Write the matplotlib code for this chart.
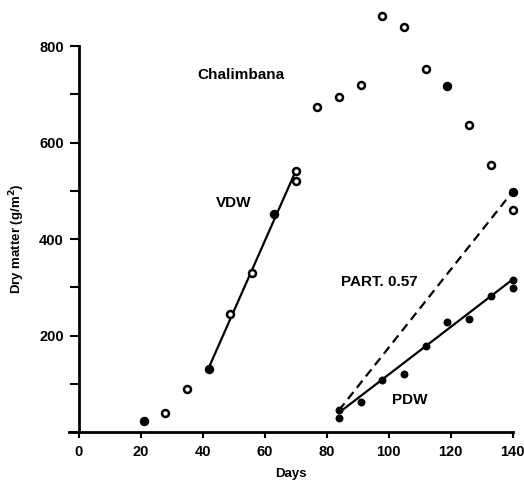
import matplotlib
matplotlib.use("Agg")
import matplotlib.pyplot as plt
from matplotlib.ticker import MultipleLocator

plt.rcParams['font.family'] = ['Liberation Sans', 'DejaVu Sans']
plt.rcParams['font.weight'] = 'bold'

# Total dry matter, Chalimbana (g/m2)
total_days = [21, 28, 35, 42, 49, 56, 63, 70, 70, 77, 84, 91, 98, 105, 112, 119, 126, 133, 140, 140]
total_dm = [23, 40, 90, 131, 244, 329, 452, 541, 521, 673, 694, 719, 863, 840, 752, 717, 636, 554, 498, 461]
total_filled = [True, False, False, True, False, False, True, False, False, False, False, False,
                False, False, False, True, False, False, True, False]

# Pod dry weight (g/m2)
pdw_days = [84, 84, 91, 98, 105, 112, 119, 126, 133, 140, 140]
pdw_dm = [45, 30, 62, 108, 121, 179, 229, 235, 281, 315, 298]

# Fitted lines
vdw_line_days = [42, 70]
vdw_line_dm = [133, 540]
pdw_line_days = [84, 140]
pdw_line_dm = [40, 316]
part_line_days = [84, 140]
part_line_dm = [45, 498]

xticks = [0, 20, 40, 60, 80, 100, 120, 140]
yticks = [200, 400, 600, 800]

fig = plt.figure(figsize=(5.24, 4.82), dpi=100)
ax = fig.add_axes([0.1321, 0.1037, 0.8460, 0.8008])

ax.plot(vdw_line_days, vdw_line_dm, color='black', lw=1.6, zorder=2)
ax.plot(pdw_line_days, pdw_line_dm, color='black', lw=1.6, zorder=2)
ax.plot(part_line_days, part_line_dm, color='black', lw=1.6, ls=(0, (4, 2.5)), zorder=2)

for d, v, f in zip(total_days, total_dm, total_filled):
    ax.plot([d], [v], marker='o', ms=5, mew=1.8, mec='black',
            mfc='black' if f else 'white', ls='none', clip_on=False, zorder=3)

ax.plot(pdw_days, pdw_dm, marker='o', ms=4.5, mew=1.2, mec='black', mfc='black',
        ls='none', clip_on=False, zorder=3)

ax.set_xlim(-3, 140)
ax.set_ylim(0, 800)
ax.spines['left'].set_position(('data', 0))
ax.spines['top'].set_visible(False)
ax.spines['right'].set_visible(False)
for s in ['left', 'bottom']:
    ax.spines[s].set_linewidth(2.0)

ax.set_xticks(xticks)
ax.set_xticklabels([str(t) for t in xticks])
ax.set_yticks(yticks)
ax.set_yticklabels([str(t) for t in yticks])
ax.yaxis.set_minor_locator(MultipleLocator(100))
ax.tick_params(axis='y', which='both', direction='out', length=6.5, width=1.5,
               labelsize=10.5, pad=4)
ax.tick_params(axis='x', which='major', direction='out', length=4.5, width=1.5,
               labelsize=10.5, pad=5)

ax.set_xlabel('Days', fontsize=9.5, fontweight='bold', labelpad=6)
ax.set_ylabel('Dry matter (g/m$^\\mathbf{2}$)', fontsize=9.5, fontweight='bold', labelpad=9)

ax.text(52.5, 740, 'Chalimbana', fontsize=11, fontweight='bold', ha='center', va='center')
ax.text(50, 475, 'VDW', fontsize=11, fontweight='bold', ha='center', va='center')
ax.text(97, 311, 'PART. 0.57', fontsize=11, fontweight='bold', ha='center', va='center')
ax.text(107, 66, 'PDW', fontsize=11, fontweight='bold', ha='center', va='center')

fig.savefig('out.png', dpi=100)
